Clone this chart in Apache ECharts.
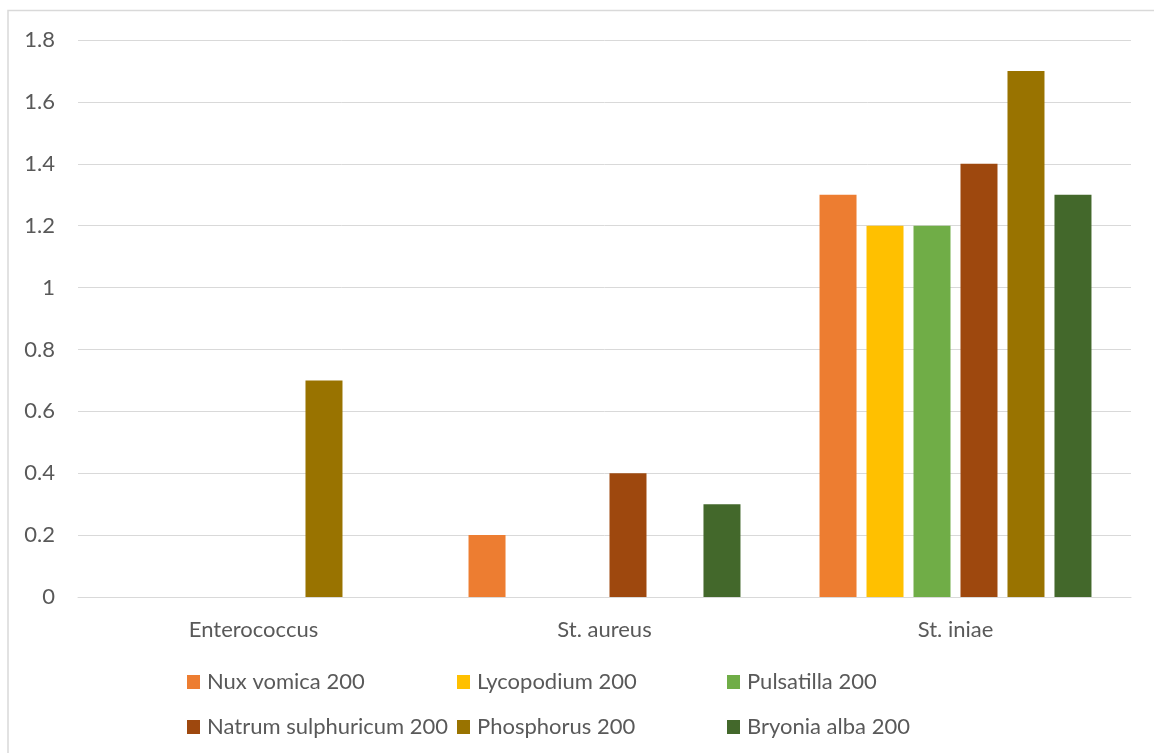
<!DOCTYPE html>
<html>
<head>
<meta charset="utf-8">
<title>Zone of inhibition by remedy</title>
<script src="https://cdn.jsdelivr.net/npm/echarts@6/dist/echarts.min.js"></script>
<style>
  html, body { margin: 0; padding: 0; background: #ffffff; }
  #chart { width: 1154px; height: 753px; }
</style>
</head>
<body>
<div id="chart"></div>
<script>
// Bacterial strains along the x axis
const categories = ['Enterococcus', 'St. aureus', 'St. iniae'];

// Remedy names (legend order)
const seriesNames = [
  'Nux vomica 200',
  'Lycopodium 200',
  'Pulsatilla 200',
  'Natrum sulphuricum 200',
  'Phosphorus 200',
  'Bryonia alba 200'
];

// Values per remedy, one per strain
const nuxVomica = [0, 0.2, 1.3];
const lycopodium = [0, 0, 1.2];
const pulsatilla = [0, 0, 1.2];
const natrumSulphuricum = [0, 0.4, 1.4];
const phosphorus = [0.7, 0, 1.7];
const bryoniaAlba = [0, 0.3, 1.3];

// Value axis ticks
const yTicks = [0, 0.2, 0.4, 0.6, 0.8, 1, 1.2, 1.4, 1.6, 1.8];

const seriesValues = [nuxVomica, lycopodium, pulsatilla, natrumSulphuricum, phosphorus, bryoniaAlba];
const colors = ['#ED7D31', '#FFC000', '#70AD47', '#9E480E', '#997300', '#43682B'];

const FONT = 'Lato';
const TEXT = '#595959';
const GRID = '#D9D9D9';

// Legend laid out as a 3 x 2 table: one legend component per entry
const legendCols = [187, 457, 727];
const legendRows = [670, 715];
const legends = seriesNames.map((name, i) => ({
  data: [name],
  left: legendCols[i % 3],
  top: legendRows[Math.floor(i / 3)],
  padding: 0,
  icon: 'rect',
  itemWidth: 13,
  itemHeight: 14,
  itemGap: 0,
  selectedMode: false,
  textStyle: {
    fontFamily: FONT,
    fontSize: 22,
    color: TEXT,
    lineHeight: 24,
    padding: [0, 0, 0, 2]
  }
}));

const chart = echarts.init(document.getElementById('chart'), null, { renderer: 'canvas' });

chart.setOption({
  animation: false,
  backgroundColor: '#ffffff',
  color: colors,
  graphic: [{
    type: 'rect',
    shape: { x: 8, y: 10.5, width: 1160, height: 760 },
    style: { fill: 'none', stroke: GRID, lineWidth: 1.5 },
    silent: true,
    z: -1
  }],
  grid: {
    left: 78,
    right: 23,
    top: 40,
    bottom: 156,
    containLabel: false
  },
  legend: legends,
  xAxis: {
    type: 'category',
    data: categories,
    axisTick: { show: false },
    axisLine: { show: true, lineStyle: { color: GRID, width: 1 } },
    axisLabel: {
      fontFamily: FONT,
      fontSize: 22,
      color: TEXT,
      lineHeight: 24,
      margin: 21
    }
  },
  yAxis: {
    type: 'value',
    min: yTicks[0],
    max: yTicks[yTicks.length - 1],
    interval: yTicks[1] - yTicks[0],
    axisLine: { show: false },
    axisTick: { show: false },
    splitLine: { show: true, lineStyle: { color: GRID, width: 1 } },
    axisLabel: {
      fontFamily: FONT,
      fontSize: 22,
      color: TEXT,
      margin: 23,
      formatter: v => String(Math.round(v * 10) / 10)
    }
  },
  series: seriesNames.map((name, i) => ({
    name: name,
    type: 'bar',
    data: seriesValues[i],
    barWidth: 37,
    barGap: '27%',
    itemStyle: { color: colors[i] }
  }))
});
</script>
</body>
</html>
